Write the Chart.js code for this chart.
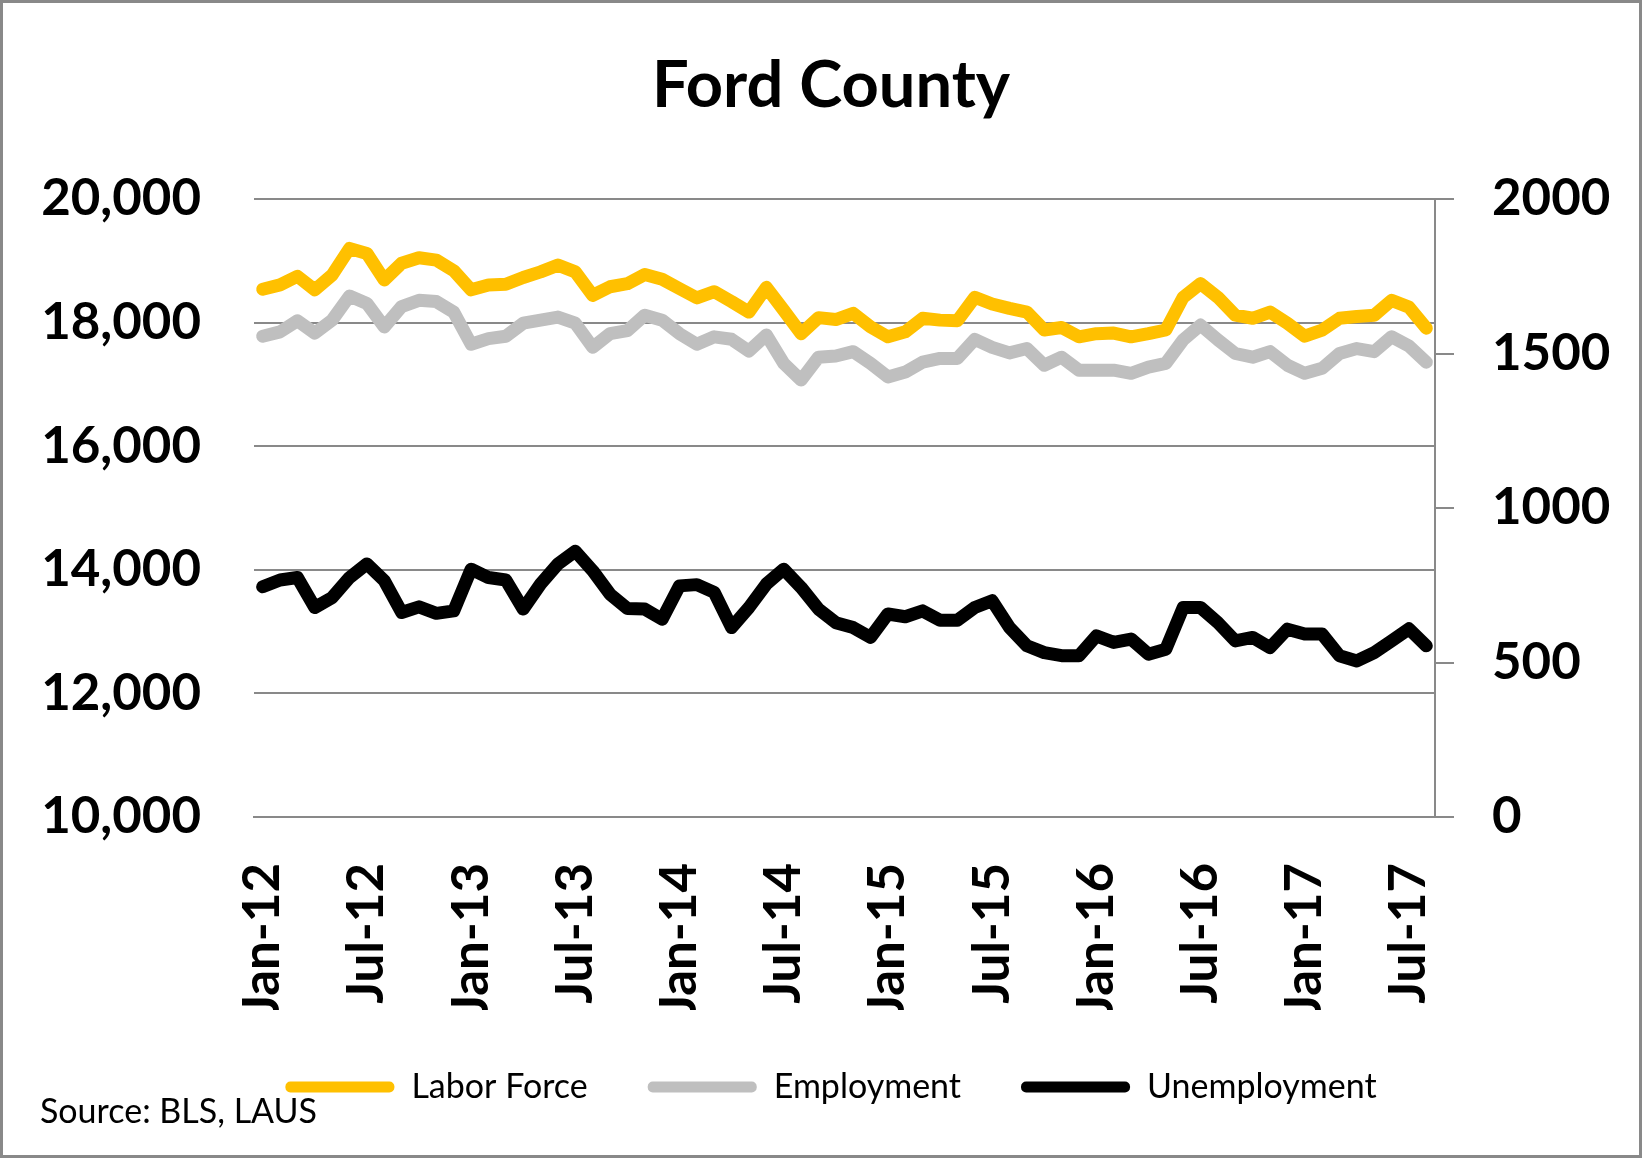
<!DOCTYPE html>
<html>
<head>
<meta charset="utf-8">
<script src="https://cdn.jsdelivr.net/npm/chart.js@4"></script>
<style>
html,body{margin:0;padding:0;background:#fff;}
#wrap{width:1642px;height:1158px;position:relative;}
</style>
</head>
<body>
<div id="wrap"><canvas id="c" width="1642" height="1158"></canvas></div>
<script>
const categories = [
 'Jan-12','Feb-12','Mar-12','Apr-12','May-12','Jun-12','Jul-12','Aug-12','Sep-12','Oct-12','Nov-12','Dec-12',
 'Jan-13','Feb-13','Mar-13','Apr-13','May-13','Jun-13','Jul-13','Aug-13','Sep-13','Oct-13','Nov-13','Dec-13',
 'Jan-14','Feb-14','Mar-14','Apr-14','May-14','Jun-14','Jul-14','Aug-14','Sep-14','Oct-14','Nov-14','Dec-14',
 'Jan-15','Feb-15','Mar-15','Apr-15','May-15','Jun-15','Jul-15','Aug-15','Sep-15','Oct-15','Nov-15','Dec-15',
 'Jan-16','Feb-16','Mar-16','Apr-16','May-16','Jun-16','Jul-16','Aug-16','Sep-16','Oct-16','Nov-16','Dec-16',
 'Jan-17','Feb-17','Mar-17','Apr-17','May-17','Jun-17','Jul-17','Aug-17'
];
const laborForce = [
 18540,18610,18750,18530,18770,19200,19120,18690,18960,19050,19010,18840,
 18530,18610,18620,18730,18820,18930,18820,18440,18580,18630,18780,18700,
 18550,18400,18500,18340,18170,18570,18200,17820,18080,18050,18150,17930,
 17770,17850,18070,18040,18030,18410,18300,18230,18170,17880,17920,17770,
 17820,17830,17770,17820,17880,18410,18630,18410,18120,18070,18170,17990,
 17780,17880,18070,18100,18120,18360,18250,17910
];
const employment = [
 17780,17850,18030,17830,18040,18430,18310,17930,18260,18360,18340,18170,
 17650,17740,17780,17990,18040,18090,17990,17600,17820,17870,18120,18040,
 17820,17650,17770,17730,17540,17800,17340,17070,17440,17460,17530,17340,
 17120,17200,17360,17420,17420,17730,17600,17510,17580,17310,17440,17230,
 17230,17230,17180,17280,17340,17720,17960,17720,17500,17440,17530,17310,
 17180,17260,17500,17580,17530,17770,17620,17360
];
const unemployment = [
 745,767,775,678,710,775,819,765,662,680,659,667,
 802,775,767,673,754,819,860,797,721,675,673,640,
 748,752,727,613,678,754,802,743,673,629,613,581,
 657,648,667,637,637,678,700,613,554,532,522,522,
 586,565,576,527,543,678,678,629,570,581,548,608,
 592,592,522,505,532,570,609,554
];
const leftAxis = {min: 10000, max: 20000, step: 2000};
const rightAxis = {min: 0, max: 2000, step: 500};
const seriesNames = ['Labor Force', 'Employment', 'Unemployment'];
const seriesColors = ['#FFC000', '#BFBFBF', '#000000'];
const titleText = 'Ford County';
const sourceText = 'Source: BLS, LAUS';

const GRID = '#898989';

const framePlugin = {
  id: 'frame',
  beforeDraw(chart) {
    const c = chart.ctx;
    c.save();
    c.fillStyle = '#fff';
    c.fillRect(0, 0, chart.width, chart.height);
    c.restore();
  },
  afterDraw(chart) {
    const c = chart.ctx;
    c.save();
    c.strokeStyle = GRID;
    c.lineWidth = 3;
    c.strokeRect(1.5, 1.5, chart.width - 3, chart.height - 3);
    c.fillStyle = '#000';
    c.font = '34px Lato';
    c.textBaseline = 'alphabetic';
    c.textAlign = 'left';
    c.fillText(sourceText, 40, 1123);
    c.restore();
  }
};

const mk = (i, data, axis) => ({
  label: seriesNames[i],
  data: data,
  borderColor: seriesColors[i],
  backgroundColor: seriesColors[i],
  borderWidth: 13,
  pointRadius: 0,
  pointHoverRadius: 0,
  tension: 0,
  borderJoinStyle: 'round',
  borderCapStyle: 'round',
  yAxisID: axis,
  fill: false
});

new Chart(document.getElementById('c'), {
  type: 'line',
  data: {
    labels: categories,
    datasets: [mk(0, laborForce, 'y'), mk(1, employment, 'y'), mk(2, unemployment, 'y1')]
  },
  plugins: [framePlugin],
  options: {
    responsive: false,
    animation: false,
    devicePixelRatio: 1,
    layout: {padding: {left: 20, right: 0, top: 0, bottom: 44}},
    plugins: {
      title: {
        display: true, text: titleText, color: '#000',
        font: {family: 'Lato', size: 65, weight: 'bold'},
        padding: {top: 47, bottom: 74}
      },
      legend: {
        position: 'bottom',
        labels: {
          boxWidth: 109, boxHeight: 11, padding: 60, color: '#000',
          font: {family: 'Lato', size: 34},
          useBorderRadius: true, borderRadius: 5,
          generateLabels(chart) {
            return Chart.defaults.plugins.legend.labels.generateLabels(chart).map(l => Object.assign(l, {
              fillStyle: l.strokeStyle, lineWidth: 0, borderRadius: 5
            }));
          }
        }
      },
      tooltip: {enabled: false}
    },
    scales: {
      x: {
        offset: true,
        grid: {display: false},
        border: {display: true, color: GRID, width: 2},
        ticks: {
          autoSkip: false, maxRotation: 90, minRotation: 90, padding: 38,
          color: '#000', font: {family: 'Lato', size: 51, weight: 'bold'},
          callback: (v, i) => (i % 6 === 0 ? categories[i] : null)
        },
        afterFit: s => { s.height = 193; }
      },
      y: {
        position: 'left',
        min: leftAxis.min, max: leftAxis.max,
        ticks: {stepSize: leftAxis.step, padding: 53, color: '#000', font: {family: 'Lato', size: 51, weight: 'bold'}},
        grid: {color: GRID, lineWidth: 2, drawTicks: false},
        border: {display: false},
        afterFit: s => { s.width = 234; }
      },
      y1: {
        position: 'right',
        min: rightAxis.min, max: rightAxis.max,
        ticks: {stepSize: rightAxis.step, padding: 38, color: '#000', font: {family: 'Lato', size: 51, weight: 'bold'}, callback: v => String(v)},
        grid: {drawOnChartArea: false, drawTicks: true, tickLength: 19, color: GRID, lineWidth: 2},
        border: {display: true, color: GRID, width: 2},
        afterFit: s => { s.width = 207; }
      }
    }
  }
});
</script>
</body>
</html>
